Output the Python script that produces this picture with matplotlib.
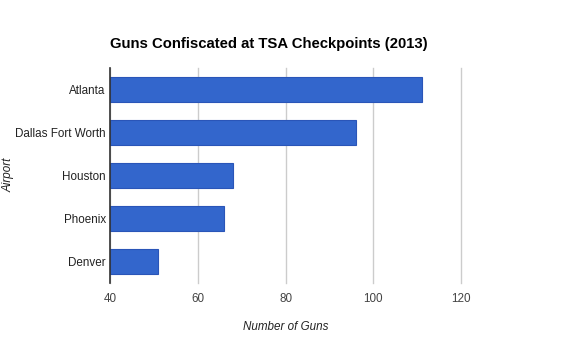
import matplotlib
matplotlib.use("Agg")
import matplotlib.pyplot as plt

plt.rcParams['font.family'] = ['Liberation Sans', 'DejaVu Sans']

airports = ['Atlanta', 'Dallas Fort Worth', 'Houston', 'Phoenix', 'Denver']
guns = [111, 96, 68, 66, 51]
xticks = [40, 60, 80, 100, 120]

fig = plt.figure(figsize=(5.7, 3.52), dpi=100)
ax = fig.add_axes([110 / 570, 1 - 283 / 352, (461 - 110) / 570, (283 - 68) / 352])

y = range(len(airports))
ax.barh(y, [g - 40 for g in guns], left=40, height=0.6,
        color='#3366cc', edgecolor='#2a55b8', linewidth=0.8, zorder=3)
ax.set_yticks(list(y))
ax.set_yticklabels(airports, fontsize=8.4, color='#222222')
ax.set_ylim(4.5, -0.5)
ax.set_xlim(40, 120)
ax.set_xticks(xticks)
ax.set_xticklabels([str(t) for t in xticks], fontsize=8.4, color='#444444')
ax.tick_params(axis='y', length=0, pad=3)
ax.tick_params(axis='x', length=0, pad=7)
ax.grid(axis='x', color='#cccccc', linewidth=1, zorder=0)
for gl in ax.get_xgridlines():
    gl.set_clip_on(False)
for s in ['top', 'right', 'bottom']:
    ax.spines[s].set_visible(False)
ax.spines['left'].set_color('#333333')
ax.spines['left'].set_linewidth(1.2)
ax.spines['left'].set_zorder(4)

fig.text(110 / 570, 1 - 44 / 352, 'Guns Confiscated at TSA Checkpoints (2013)',
         fontsize=10.7, fontweight='bold', va='center', ha='left', color='#000000')
fig.text(286 / 570, 1 - 327 / 352, 'Number of Guns', fontsize=8.4, style='italic',
         ha='center', va='center', color='#222222')
fig.text(9 / 570, 1 - 175 / 352, 'Airport', fontsize=8.4, style='italic',
         ha='center', va='center', rotation=90, color='#222222')

fig.savefig('out.png', dpi=100)
